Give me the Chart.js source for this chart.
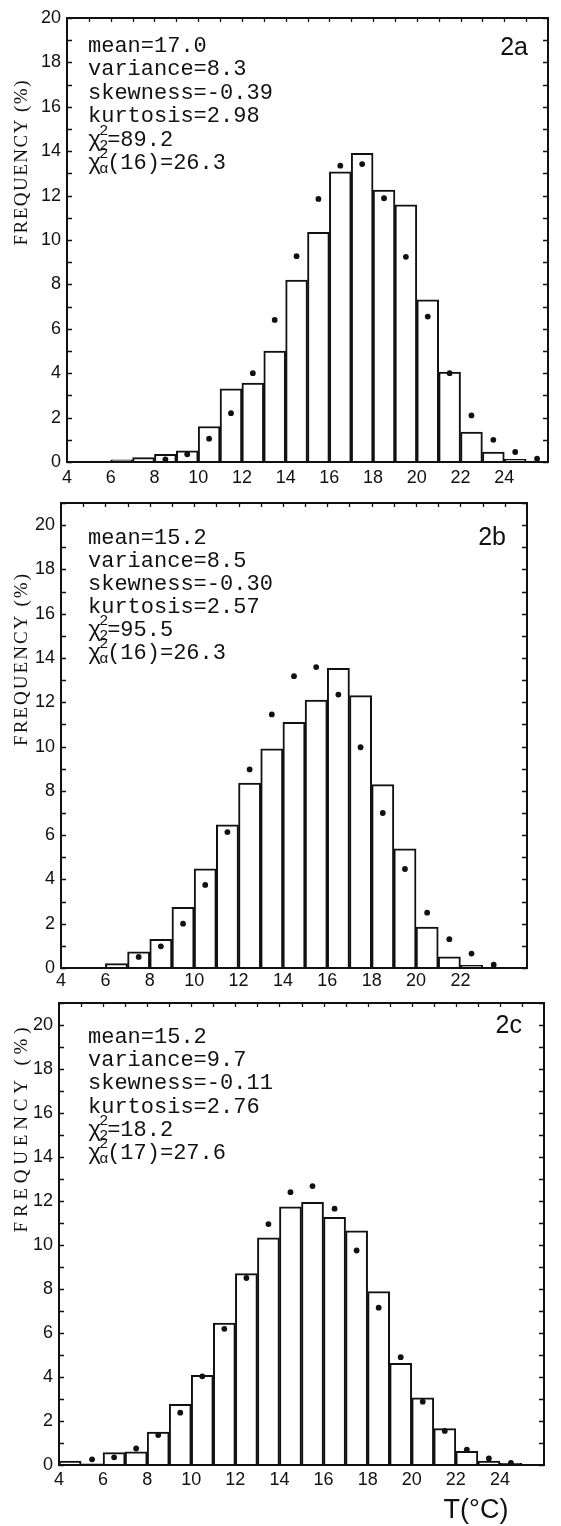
<!DOCTYPE html>
<html><head><meta charset="utf-8">
<script src="https://cdn.jsdelivr.net/npm/chart.js@4.4.1/dist/chart.umd.min.js"></script>
<style>
html,body{margin:0;padding:0;background:#fff}
body{width:561px;height:1526px;position:relative;overflow:hidden}
canvas{position:absolute;left:0}
</style></head><body>
<canvas id="ca" width="561" height="500" style="top:0px"></canvas>
<canvas id="cb" width="561" height="520" style="top:480px"></canvas>
<canvas id="cc" width="561" height="546" style="top:980px"></canvas>
<script>
// ---------- DATA ----------
const xTickLabels = [4,6,8,10,12,14,16,18,20,22,24];
const yTickLabels = [0,2,4,6,8,10,12,14,16,18,20];

// Panel 2a : observed histogram (bins [edge, edge+1]) and fitted values (dots)
const binEdgesA = [4,5,6,7,8,9,10,11,12,13,14,15,16,17,18,19,20,21,22,23,24,25];
const barsA     = [0,0,0.1,0.2,0.35,0.5,1.6,3.3,3.55,5.0,8.2,10.35,13.07,13.9,12.25,11.58,7.3,4.05,1.35,0.45,0.12,0];
const fitXA     = [8.5,9.5,10.5,11.5,12.5,13.5,14.5,15.5,16.5,17.5,18.5,19.5,20.5,21.5,22.5,23.5,24.5,25.5];
const fitA      = [0.12,0.35,1.05,2.2,4.0,6.4,9.27,11.85,13.35,13.42,11.88,9.24,6.55,4.0,2.1,1.0,0.45,0.15];
const statsA    = ["mean=17.0","variance=8.3","skewness=-0.39","kurtosis=2.98"];
const chiA      = ["2","=89.2"];
const chiAlphaA = ["α","(16)=26.3"];
const labelA    = "2a";

// Panel 2b
const binEdgesB = [4,5,6,7,8,9,10,11,12,13,14,15,16,17,18,19,20,21,22,23,24];
const barsB     = [0,0,0.2,0.73,1.29,2.74,4.48,6.47,8.35,9.9,11.1,12.1,13.53,12.3,8.28,5.38,1.85,0.5,0.12,0,0];
const fitXB     = [7.5,8.5,9.5,10.5,11.5,12.5,13.5,14.5,15.5,16.5,17.5,18.5,19.5,20.5,21.5,22.5,23.5];
const fitB      = [0.5,0.98,2.0,3.75,6.14,8.97,11.45,13.18,13.59,12.35,9.97,7.0,4.47,2.5,1.3,0.65,0.15];
const statsB    = ["mean=15.2","variance=8.5","skewness=-0.30","kurtosis=2.57"];
const chiB      = ["2","=95.5"];
const chiAlphaB = ["α","(16)=26.3"];
const labelB    = "2b";

// Panel 2c
const binEdgesC = [4,5,6,7,8,9,10,11,12,13,14,15,16,17,18,19,20,21,22,23,24,25];
const barsC     = [0.18,0.05,0.56,0.6,1.5,2.76,4.08,6.45,8.7,10.33,11.74,11.94,11.26,10.64,7.88,4.62,3.05,1.65,0.62,0.18,0.08,0];
const fitXC     = [5.5,6.5,7.5,8.5,9.5,10.5,11.5,12.5,13.5,14.5,15.5,16.5,17.5,18.5,19.5,20.5,21.5,22.5,23.5,24.5];
const fitC      = [0.26,0.35,0.75,1.36,2.38,4.03,6.19,8.5,10.95,12.4,12.68,11.65,9.75,7.15,4.9,2.88,1.55,0.7,0.3,0.1];
const statsC    = ["mean=15.2","variance=9.7","skewness=-0.11","kurtosis=2.76"];
const chiC      = ["2","=18.2"];
const chiAlphaC = ["α","(17)=27.6"];
const labelC    = "2c";

const yTitle = "FREQUENCY (%)";
const xTitle = "T(°C)";

// ---------- DRAWING ----------
const MONO = "22px 'Liberation Mono', 'DejaVu Sans Mono', monospace";
const SMALL = "15px 'Liberation Mono', 'DejaVu Sans Mono', monospace";

function decorPlugin(p) {
  return {
    id: 'decor',
    afterDraw(chart) {
      const ctx = chart.ctx, a = chart.chartArea, x = chart.scales.x, y = chart.scales.y;
      ctx.save();
      ctx.strokeStyle = '#111';
      ctx.lineWidth = 2;
      ctx.strokeRect(a.left, a.top, a.right - a.left, a.bottom - a.top);
      ctx.lineWidth = 1.3;
      ctx.beginPath();
      y.ticks.forEach(t => {
        const py = Math.round(y.getPixelForValue(t.value)) + 0.5;
        ctx.moveTo(a.left, py); ctx.lineTo(a.left + 5, py);
        ctx.moveTo(a.right, py); ctx.lineTo(a.right - 5, py);
      });
      for (let v = Math.ceil(x.min) + 1; v < x.max; v++) {
        const px = Math.round(x.getPixelForValue(v)) + 0.5;
        ctx.moveTo(px, a.top); ctx.lineTo(px, a.top + 4);
      }
      ctx.stroke();

      // statistics block
      ctx.fillStyle = '#111';
      ctx.textAlign = 'left';
      ctx.textBaseline = 'middle';
      ctx.font = MONO;
      const cw = ctx.measureText('M').width;
      let yy = a.top + p.textTop;
      p.stats.forEach(s => { ctx.fillText(s, p.textX, yy); yy += p.step; });
      [p.chi, p.chiAlpha].forEach(c => {
        ctx.font = MONO;
        ctx.fillText('χ', p.textX, yy);
        ctx.font = SMALL;
        ctx.fillText('2', p.textX + cw * 0.85, yy - 9);
        ctx.fillText(c[0], p.textX + cw * 0.85, yy + 6);
        ctx.font = MONO;
        ctx.fillText(c[1], p.textX + cw * 1.45, yy);
        yy += p.step;
      });

      // panel label
      ctx.font = "25px 'Liberation Sans', Arial, sans-serif";
      ctx.textAlign = 'right';
      ctx.fillText(p.label, a.right - p.labelRight, a.top + p.labelTop);

      // y title (rotated)
      ctx.save();
      ctx.font = "19px 'Liberation Serif', 'DejaVu Serif', serif";
      const n = yTitle.length;
      const w0 = ctx.measureText(yTitle).width;
      const sp = Math.max(0, (p.titleLen - w0) / (n - 1));
      const total = w0 + sp * (n - 1);
      ctx.translate(p.titleX, p.titleY);
      ctx.rotate(-Math.PI / 2);
      ctx.textAlign = 'left';
      ctx.textBaseline = 'middle';
      let cx = -total / 2;
      for (const ch of yTitle) {
        ctx.fillText(ch, cx, 0);
        cx += ctx.measureText(ch).width + sp;
      }
      ctx.restore();

      if (p.xTitle) {
        ctx.font = "27px 'Liberation Sans', Arial, sans-serif";
        ctx.textAlign = 'center';
        ctx.textBaseline = 'middle';
        ctx.fillText(xTitle, p.xTitleX, p.xTitleY);
      }
      ctx.restore();
    }
  };
}

function makeChart(id, p) {
  const canvas = document.getElementById(id);
  const H = canvas.height;
  new Chart(canvas, {
    type: 'bar',
    data: {
      datasets: [
        {
          type: 'scatter',
          data: p.fitX.map((v, i) => ({x: v, y: p.fit[i]})),
          pointRadius: 2.9,
          pointBackgroundColor: '#111',
          pointBorderWidth: 0,
          order: 0
        },
        {
          type: 'bar',
          data: p.edges.map((e, i) => ({x: e + 0.5, y: p.bars[i]})),
          backgroundColor: '#fff',
          borderColor: '#111',
          borderWidth: 2,
          borderSkipped: 'start',
          barPercentage: 1,
          categoryPercentage: 1,
          order: 1
        }
      ]
    },
    options: {
      responsive: false,
      animation: false,
      events: [],
      layout: { padding: { left: 0, right: 561 - p.r, top: p.t, bottom: 0 } },
      plugins: { legend: { display: false }, tooltip: { enabled: false } },
      scales: {
        x: {
          type: 'linear', min: 4, max: p.xmax, offset: false,
          grid: { display: false, drawTicks: false },
          border: { display: false },
          ticks: {
            stepSize: 2, autoSkip: false, maxRotation: 0, padding: p.xPad,
            color: '#111',
            font: { family: "'Liberation Sans', Arial, sans-serif", size: 18 },
            callback: v => xTickLabels.includes(v) ? String(v) : ''
          },
          afterFit: s => { s.height = H - p.b; }
        },
        y: {
          type: 'linear', min: 0, max: p.ymax,
          grid: { display: false, drawTicks: false },
          border: { display: false },
          ticks: {
            stepSize: 1, autoSkip: false, padding: 6,
            color: '#111',
            font: { family: "'Liberation Sans', Arial, sans-serif", size: 18 },
            callback: v => yTickLabels.includes(v) ? String(v) : ''
          },
          afterFit: s => { s.width = p.l; }
        }
      }
    },
    plugins: [decorPlugin(p)]
  });
}

makeChart('ca', {
  edges: binEdgesA, bars: barsA, fitX: fitXA, fit: fitA,
  stats: statsA, chi: chiA, chiAlpha: chiAlphaA, label: labelA,
  l: 67, r: 548, t: 18, b: 462, xmax: 26, ymax: 20, xPad: 5,
  textX: 88, textTop: 28, step: 23.5, labelRight: 20, labelTop: 30,
  titleX: 22, titleY: 163, titleLen: 165
});
makeChart('cb', {
  edges: binEdgesB, bars: barsB, fitX: fitXB, fit: fitB,
  stats: statsB, chi: chiB, chiAlpha: chiAlphaB, label: labelB,
  l: 61, r: 527, t: 23, b: 488, xmax: 25, ymax: 21, xPad: 2,
  textX: 88, textTop: 35, step: 23, labelRight: 21, labelTop: 35,
  titleX: 22, titleY: 180, titleLen: 172
});
makeChart('cc', {
  edges: binEdgesC, bars: barsC, fitX: fitXC, fit: fitC,
  stats: statsC, chi: chiC, chiAlpha: chiAlphaC, label: labelC,
  l: 59, r: 544, t: 23, b: 485, xmax: 26, ymax: 21, xPad: 4,
  textX: 88, textTop: 34, step: 23.3, labelRight: 22, labelTop: 23,
  titleX: 22, titleY: 150, titleLen: 205,
  xTitle: true, xTitleX: 476, xTitleY: 531
});
</script>
</body></html>
